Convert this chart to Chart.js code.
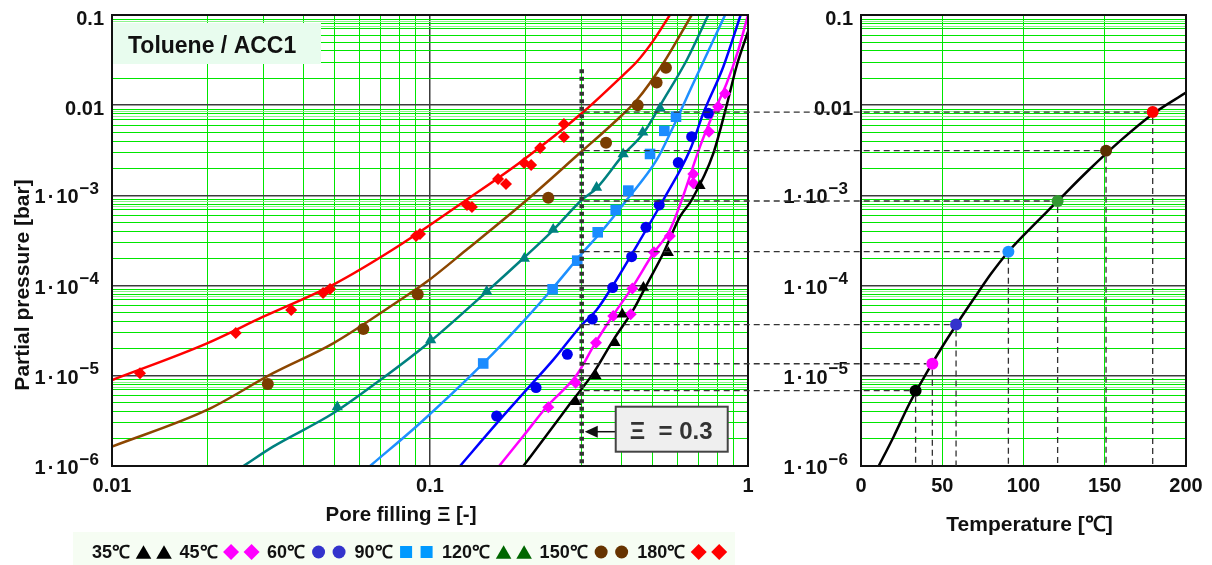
<!DOCTYPE html>
<html>
<head>
<meta charset="utf-8">
<script src="https://cdn.jsdelivr.net/npm/chart.js@4.4.1/dist/chart.umd.min.js"></script>
<style>
  body { margin: 0; background: #fff; }
  #wrap { position: relative; width: 1212px; height: 565px; }
  canvas { position: absolute; top: 0; }
</style>
</head>
<body>
<div id="wrap">
  <canvas id="fill" width="790" height="565" style="left:0"></canvas>
  <canvas id="temp" width="452" height="565" style="left:760px"></canvas>
  <canvas id="links" width="1212" height="565" style="left:0;pointer-events:none"></canvas>
</div>
<script>
// ---- values ----
var temps = [35, 45, 60, 90, 120, 150, 180];
var tempLabels = ['35℃', '45℃', '60℃', '90℃', '120℃', '150℃', '180℃'];

// fitted isotherms (pore filling, partial pressure in bar)
var xiFit35 = [0.1966, 0.2328, 0.2756, 0.3263, 0.377, 0.4357, 0.48, 0.5416, 0.611, 0.665, 0.778, 0.857, 0.923, 1.0];
var pFit35  = [1e-6, 2.2e-6, 4.9e-6, 1.07e-5, 2.49e-5, 5.37e-5, 1.02e-4, 2.28e-4, 5.81e-4, 8.89e-4, 2.93e-3, 1.0e-2, 2.79e-2, 6.53e-2];
var xiFit45 = [0.165, 0.1966, 0.2328, 0.2891, 0.3305, 0.377, 0.4306, 0.5038, 0.568, 0.619, 0.7063, 0.778, 0.857, 0.932, 1.0];
var pFit45  = [1e-6, 2.15e-6, 4.54e-6, 1.02e-5, 2.29e-5, 4.72e-5, 9.33e-5, 2.28e-4, 4.13e-4, 8.89e-4, 3.47e-3, 8.13e-3, 1.75e-2, 4.09e-2, 0.1];
var xiFit60 = [0.1243, 0.162, 0.1966, 0.244, 0.3, 0.334, 0.377, 0.4357, 0.5416, 0.657, 0.7235, 0.8363, 0.948];
var pFit60  = [1e-6, 2.97e-6, 6.40e-6, 1.50e-5, 3.66e-5, 5.37e-5, 1.02e-4, 2.38e-4, 8.89e-4, 3.18e-3, 8.13e-3, 2.67e-2, 0.1];
var xiFit90 = [0.0648, 0.093, 0.147, 0.1966, 0.244, 0.3, 0.3424, 0.4154, 0.516, 0.582, 0.673, 0.847];
var pFit90  = [1e-6, 2.98e-6, 1.37e-5, 4.02e-5, 9.48e-5, 2.26e-4, 3.80e-4, 8.89e-4, 2.47e-3, 5.78e-3, 1.75e-2, 0.1];
var xiFit120 = [0.0259, 0.0321, 0.0496, 0.0697, 0.1, 0.1508, 0.1966, 0.244, 0.3, 0.334, 0.405, 0.469, 0.5416, 0.642, 0.75];
var pFit120  = [1e-6, 1.64e-6, 3.84e-6, 8.97e-6, 2.39e-5, 8.57e-5, 2.01e-4, 4.13e-4, 8.89e-4, 1.20e-3, 2.81e-3, 4.88e-3, 1.14e-2, 3.17e-2, 0.1];
var xiFit150 = [0.01, 0.0199, 0.0321, 0.0496, 0.0805, 0.0976, 0.130, 0.2016, 0.2953, 0.377, 0.447, 0.5416, 0.665];
var pFit150  = [1.64e-6, 4.18e-6, 1.07e-5, 2.29e-5, 6.92e-5, 1.10e-4, 2.48e-4, 8.89e-4, 2.93e-3, 6.31e-3, 1.14e-2, 2.92e-2, 0.1];
var xiFit180 = [0.01, 0.0199, 0.0299, 0.0495, 0.0805, 0.130, 0.1965, 0.300, 0.405, 0.447, 0.5038, 0.568];
var pFit180  = [8.97e-6, 2.29e-5, 4.52e-5, 1.02e-4, 2.82e-4, 8.89e-4, 2.47e-3, 8.13e-3, 2.16e-2, 3.03e-2, 5.2e-2, 0.1];

// measured points
var xiExp35 = [0.2877, 0.3327, 0.3819, 0.4024, 0.469, 0.5616, 0.7063];
var pExp35  = [5.16e-6, 9.95e-6, 2.33e-5, 4.8e-5, 9.5e-5, 2.32e-4, 1.28e-3];
var xiExp45 = [0.2355, 0.287, 0.3327, 0.377, 0.4276, 0.433, 0.506, 0.568, 0.673, 0.673, 0.754, 0.806, 0.847];
var pExp45  = [4.48e-6, 8.4e-6, 2.33e-5, 4.6e-5, 4.8e-5, 9.3e-5, 2.34e-4, 3.55e-4, 1.73e-3, 1.36e-3, 5.08e-3, 9.6e-3, 1.35e-2];
var xiExp60 = [0.162, 0.2155, 0.2703, 0.324, 0.3754, 0.4306, 0.4777, 0.526, 0.6036, 0.665, 0.75];
var pExp60  = [3.58e-6, 7.4e-6, 1.73e-5, 4.26e-5, 9.5e-5, 2.09e-4, 4.43e-4, 7.83e-4, 2.31e-3, 4.48e-3, 8.13e-3];
var xiExp90 = [0.147, 0.243, 0.2904, 0.3368, 0.3837, 0.4204, 0.492, 0.5455, 0.5937];
var pExp90  = [1.37e-5, 9.1e-5, 1.89e-4, 3.9e-4, 6.9e-4, 1.13e-3, 2.88e-3, 5.2e-3, 7.46e-3];
var xiExp120 = [0.0511, 0.1005, 0.1508, 0.198, 0.244, 0.334, 0.405, 0.4666, 0.529];
var pExp120  = [4.5e-6, 2.5e-5, 8.6e-5, 2.0e-4, 4.2e-4, 1.22e-3, 2.88e-3, 5.0e-3, 9.25e-3];
var xiExp150 = [0.0309, 0.0617, 0.0915, 0.2355, 0.3578, 0.4498, 0.516, 0.552];
var pExp150  = [8.1e-6, 3.3e-5, 8.0e-5, 9.4e-4, 3.84e-3, 1.0e-2, 1.79e-2, 2.6e-2];
var xiExp180 = [0.01225, 0.0245, 0.0366, 0.0461, 0.0485, 0.0904, 0.0930, 0.1307, 0.1355, 0.1637, 0.1734, 0.1977, 0.208, 0.222, 0.2638, 0.2638];
var pExp180  = [1.07e-5, 2.98e-5, 5.36e-5, 8.28e-5, 9.16e-5, 3.55e-4, 3.73e-4, 7.83e-4, 7.43e-4, 1.52e-3, 1.34e-3, 2.29e-3, 2.17e-3, 3.36e-3, 6.19e-3, 4.44e-3];

// right panel: pressure over temperature
var vpT = [10, 20, 30, 40, 50, 60, 70, 80, 90, 100, 120, 140, 160, 180, 200];
var vpP = [9.3e-7, 2.1e-6, 5.0e-6, 1.05e-5, 2.1e-5, 4.0e-5, 7.4e-5, 1.35e-4, 2.3e-4, 3.6e-4, 8.3e-4, 1.9e-3, 4.1e-3, 8.1e-3, 1.38e-2];
var crossT = [33.6, 43.9, 58.5, 90.7, 121, 150.8, 179.5];
var crossP = [6.84e-6, 1.36e-5, 3.7e-5, 2.38e-4, 8.67e-4, 3.13e-3, 8.4e-3];

var xiMark = 0.3;        // Ξ = 0.3 reading line
var markTopP = 0.025;    // top end of that line
var calloutP = 2.4e-6;   // height of the callout arrow

var xGridMult = [1, 2, 3, 4, 5, 6, 7, 8, 9];
var yGridMult = [1, 2, 3, 4, 5, 6, 7, 7.5, 8, 8.5, 9];
var yTickExps = [-1, -2, -3, -4, -5, -6];
var tempTicks = [0, 50, 100, 150, 200];

var FONT = "'Liberation Sans', Arial, Helvetica, sans-serif";
Chart.defaults.font.family = FONT;

var series = [
    {xi: xiFit35,  p: pFit35,  exi: xiExp35,  ep: pExp35,  line: '#000000', mark: '#000000', key: '#000000', style: 'triangle', r: 6.5, kr: 9},
    {xi: xiFit45,  p: pFit45,  exi: xiExp45,  ep: pExp45,  line: '#ff00ff', mark: '#ff00ff', key: '#ff00ff', style: 'rectRot',  r: 6,   kr: 8},
    {xi: xiFit60,  p: pFit60,  exi: xiExp60,  ep: pExp60,  line: '#0000ff', mark: '#0000ee', key: '#3333cc', style: 'circle',   r: 5.5, kr: 6.5},
    {xi: xiFit90,  p: pFit90,  exi: xiExp90,  ep: pExp90,  line: '#1e90ff', mark: '#1a8cff', key: '#0099ff', style: 'rect',     r: 7.5, kr: 8.5},
    {xi: xiFit120, p: pFit120, exi: xiExp120, ep: pExp120, line: '#008080', mark: '#008080', key: '#006600', style: 'triangle', r: 6.5, kr: 9},
    {xi: xiFit150, p: pFit150, exi: xiExp150, ep: pExp150, line: '#8c4600', mark: '#7a3d00', key: '#663300', style: 'circle',   r: 6,   kr: 6.5},
    {xi: xiFit180, p: pFit180, exi: xiExp180, ep: pExp180, line: '#ff0000', mark: '#ff0000', key: '#ff0000', style: 'rectRot',  r: 6,   kr: 8}
];
var dotColors = ['#000000', '#ff00ff', '#3333cc', '#1e90ff', '#339933', '#5a3000', '#ff0000'];

function pts(xs, ys) {
    return xs.map(function (x, i) { return {x: x, y: ys[i]}; });
}
function logGrid(minExp, maxExp, mults) {
    var out = [];
    for (var e = minExp; e < maxExp; e++) {
        mults.forEach(function (m) { out.push(m * Math.pow(10, e)); });
    }
    out.push(Math.pow(10, maxExp));
    return out;
}
function mantissa(v) {
    var e = Math.floor(Math.log10(v) + 1e-9);
    return v / Math.pow(10, e);
}
function isDecade(v) { return Math.abs(mantissa(v) - 1) < 1e-6; }
function isHalf(v) { var m = mantissa(v); return Math.abs(m - Math.round(m)) > 0.25; }

function gridColor(c) {
    var v = c.tick.value;
    return isDecade(v) ? '#3c3c3c' : (isHalf(v) ? '#8cf58c' : '#00e600');
}
function gridWidth(c) { return isDecade(c.tick.value) ? 1.5 : 1; }

function marker(ctx, style, r, x, y, color) {
    ctx.fillStyle = color;
    if (Chart.helpers && Chart.helpers.drawPoint) {
        Chart.helpers.drawPoint(ctx, {pointStyle: style, radius: r, rotation: 0, borderWidth: 0}, x, y);
        return;
    }
    ctx.beginPath();
    ctx.arc(x, y, r, 0, Math.PI * 2);
    ctx.fill();
}

// y tick labels "0.1", "0.01", "1·10^-3" ... drawn with a raised exponent
function drawYLabels(chart) {
    var ctx = chart.ctx, a = chart.chartArea, y = chart.scales.y;
    ctx.save();
    ctx.fillStyle = '#111';
    ctx.textBaseline = 'alphabetic';
    yTickExps.forEach(function (e) {
        var py = y.getPixelForValue(Math.pow(10, e));
        if (e >= -2) {
            ctx.font = 'bold 20px ' + FONT;
            ctx.textAlign = 'right';
            ctx.fillText(e === -1 ? '0.1' : '0.01', a.left - 8, py + 10);
            return;
        }
        var sup = '\u2212' + (-e);
        ctx.textAlign = 'left';
        ctx.font = 'bold 17px ' + FONT;
        var wSup = ctx.measureText(sup).width;
        var xs = a.left - 13 - wSup;
        ctx.fillText(sup, xs, py - 1.5);
        ctx.font = 'bold 20px ' + FONT;
        var w10 = ctx.measureText('10').width, wDot = ctx.measureText('·').width, w1 = ctx.measureText('1').width;
        var x10 = xs - 1 - w10, xDot = x10 - 2 - wDot, x1 = xDot - 2 - w1;
        ctx.fillText('10', x10, py + 8);
        ctx.fillText('·', xDot, py + 8);
        ctx.fillText('1', x1, py + 8);
    });
    ctx.restore();
}

var fillDecor = {
    id: 'fillDecor',
    afterDatasetsDraw: function (chart) {
        var ctx = chart.ctx, a = chart.chartArea, x = chart.scales.x, y = chart.scales.y;
        ctx.save();
        // reading line at Ξ = 0.3
        var x0 = x.getPixelForValue(xiMark);
        ctx.strokeStyle = '#333';
        ctx.lineWidth = 4.5;
        ctx.setLineDash([4, 3.5]);
        ctx.beginPath();
        ctx.moveTo(x0, y.getPixelForValue(markTopP));
        ctx.lineTo(x0, a.bottom);
        ctx.stroke();
        ctx.setLineDash([]);

        // plot frame
        ctx.strokeStyle = '#111';
        ctx.lineWidth = 2;
        ctx.strokeRect(a.left, a.top, a.right - a.left, a.bottom - a.top);

        // system label
        ctx.fillStyle = '#e8fcee';
        ctx.fillRect(a.left + 1, a.top + 8, 208, 41);
        ctx.fillStyle = '#111';
        ctx.font = 'bold 23px ' + FONT;
        ctx.textAlign = 'left';
        ctx.textBaseline = 'alphabetic';
        ctx.fillText('Toluene / ACC1', a.left + 16, a.top + 38);

        // callout with arrow
        var ay = y.getPixelForValue(calloutP);
        var bx = x0 + 34, by = ay - 25, bw = 112, bh = 45;
        ctx.strokeStyle = '#111';
        ctx.lineWidth = 1.5;
        ctx.beginPath();
        ctx.moveTo(bx, ay);
        ctx.lineTo(x0 + 14, ay);
        ctx.stroke();
        ctx.fillStyle = '#111';
        ctx.beginPath();
        ctx.moveTo(x0 + 3, ay);
        ctx.lineTo(x0 + 16, ay - 6);
        ctx.lineTo(x0 + 16, ay + 6);
        ctx.closePath();
        ctx.fill();
        ctx.fillStyle = '#efefef';
        ctx.fillRect(bx, by, bw, bh);
        ctx.strokeStyle = '#444';
        ctx.lineWidth = 2;
        ctx.strokeRect(bx, by, bw, bh);
        ctx.fillStyle = '#333';
        ctx.font = 'bold 24px ' + FONT;
        ctx.fillText('\u039E  = 0.3', bx + 14, by + 32);
        ctx.restore();
    },
    afterDraw: function (chart) {
        var ctx = chart.ctx;
        drawYLabels(chart);
        ctx.save();
        ctx.fillStyle = '#111';
        // axis titles
        ctx.font = 'bold 20.5px ' + FONT;
        ctx.textAlign = 'center';
        ctx.textBaseline = 'alphabetic';
        ctx.fillText('Pore filling \u039E [-]', 401, 521);
        ctx.save();
        ctx.translate(28.5, 285);
        ctx.rotate(-Math.PI / 2);
        ctx.font = 'bold 21px ' + FONT;
        ctx.fillText('Partial pressure [bar]', 0, 0);
        ctx.restore();

        // legend strip
        ctx.fillStyle = '#f6fdf3';
        ctx.fillRect(73, 532, 662, 33);
        ctx.font = 'bold 18px ' + FONT;
        ctx.textAlign = 'left';
        ctx.textBaseline = 'alphabetic';
        var lx = 92, ly = 552;
        series.forEach(function (s, i) {
            ctx.fillStyle = '#111';
            ctx.fillText(tempLabels[i], lx, ly + 6);
            lx += ctx.measureText(tempLabels[i]).width + 13.5;
            var dy = s.style === 'triangle' ? s.kr / 4 : 0;
            marker(ctx, s.style, s.kr, lx, ly + dy, s.key);
            lx += 20.5;
            marker(ctx, s.style, s.kr, lx, ly + dy, s.key);
            lx += 15.5;
        });
        ctx.restore();
    }
};

var tempDecor = {
    id: 'tempDecor',
    afterDatasetsDraw: function (chart) {
        var ctx = chart.ctx, a = chart.chartArea;
        ctx.save();
        ctx.strokeStyle = '#111';
        ctx.lineWidth = 2;
        ctx.strokeRect(a.left, a.top, a.right - a.left, a.bottom - a.top);
        ctx.restore();
    },
    afterDraw: function (chart) {
        var ctx = chart.ctx, a = chart.chartArea;
        drawYLabels(chart);
        ctx.save();
        ctx.fillStyle = '#111';
        ctx.font = 'bold 21px ' + FONT;
        ctx.textAlign = 'center';
        ctx.textBaseline = 'alphabetic';
        ctx.fillText('Temperature [℃]', (a.left + a.right) / 2 + 6, 531);
        ctx.restore();
    }
};

// left chart datasets: fit lines below, measured points on top
var fillSets = [];
series.forEach(function (s, i) {
    fillSets.push({
        label: tempLabels[i] + ' fit',
        data: pts(s.xi, s.p),
        showLine: true,
        borderColor: s.line,
        borderWidth: 2.5,
        pointRadius: 0,
        cubicInterpolationMode: 'monotone',
        order: 2
    });
    fillSets.push({
        label: tempLabels[i],
        data: pts(s.exi, s.ep),
        showLine: false,
        pointStyle: s.style,
        pointRadius: s.r,
        backgroundColor: s.mark,
        borderWidth: 0,
        order: 1
    });
});

var logY = {
    type: 'logarithmic',
    min: 1e-6,
    max: 0.1,
    afterBuildTicks: function (s) { s.ticks = logGrid(-6, -1, yGridMult).map(function (v) { return {value: v}; }); },
    grid: {color: gridColor, lineWidth: gridWidth, drawTicks: false},
    border: {display: false},
    ticks: {display: false}
};

var fillChart = new Chart(document.getElementById('fill'), {
    type: 'scatter',
    data: {datasets: fillSets},
    options: {
        responsive: false,
        animation: false,
        events: [],
        layout: {padding: {top: 15, right: 42, left: 0, bottom: 0}},
        plugins: {legend: {display: false}, tooltip: {enabled: false}},
        scales: {
            x: {
                type: 'logarithmic',
                min: 0.01,
                max: 1,
                afterBuildTicks: function (s) { s.ticks = logGrid(-2, 0, xGridMult).map(function (v) { return {value: v}; }); },
                afterFit: function (s) { s.height = 99; },
                grid: {color: gridColor, lineWidth: gridWidth, drawTicks: false},
                border: {display: false},
                ticks: {
                    autoSkip: false,
                    maxRotation: 0,
                    padding: 8,
                    color: '#111',
                    font: {size: 20, weight: 'bold'},
                    callback: function (v) { return isDecade(v) ? String(v) : ''; }
                }
            },
            y: Object.assign({}, logY, {afterFit: function (s) { s.width = 112; }})
        }
    },
    plugins: [fillDecor]
});

var tempChart = new Chart(document.getElementById('temp'), {
    type: 'scatter',
    data: {
        datasets: [
            {
                label: 'pressure',
                data: pts(vpT, vpP),
                showLine: true,
                borderColor: '#000',
                borderWidth: 2.5,
                pointRadius: 0,
                cubicInterpolationMode: 'monotone',
                order: 2
            },
            {
                label: 'at 0.3',
                data: pts(crossT, crossP),
                pointRadius: 6,
                borderWidth: 0,
                backgroundColor: dotColors,
                order: 1
            }
        ]
    },
    options: {
        responsive: false,
        animation: false,
        events: [],
        layout: {padding: {top: 15, right: 26, left: 0, bottom: 0}},
        plugins: {legend: {display: false}, tooltip: {enabled: false}},
        scales: {
            x: {
                type: 'linear',
                min: 0,
                max: 200,
                afterBuildTicks: function (s) { s.ticks = tempTicks.map(function (v) { return {value: v}; }); },
                afterFit: function (s) { s.height = 99; },
                grid: {color: '#00e600', lineWidth: 1, drawTicks: false},
                border: {display: false},
                ticks: {autoSkip: false, maxRotation: 0, padding: 8, color: '#111', font: {size: 20, weight: 'bold'}}
            },
            y: Object.assign({}, logY, {afterFit: function (s) { s.width = 101; }})
        }
    },
    plugins: [tempDecor]
});

// dashed read-off lines from Ξ = 0.3 across to the temperature panel
function drawLinks() {
    var c = document.getElementById('links').getContext('2d');
    var lx = fillChart.scales.x, ly = fillChart.scales.y;
    var rx = tempChart.scales.x, ry = tempChart.scales.y;
    var off = tempChart.canvas.offsetLeft;
    var x0 = lx.getPixelForValue(xiMark);
    c.strokeStyle = '#333';
    c.lineWidth = 1.3;
    c.setLineDash([6, 4]);
    crossT.forEach(function (t, i) {
        var yl = ly.getPixelForValue(crossP[i]);
        var xr = off + rx.getPixelForValue(t);
        var yr = ry.getPixelForValue(crossP[i]);
        c.beginPath();
        c.moveTo(x0 + 2, yl);
        c.lineTo(xr - 6, yr);
        c.stroke();
        c.beginPath();
        c.moveTo(xr, yr + 6);
        c.lineTo(xr, ry.bottom);
        c.stroke();
    });
}
drawLinks();
</script>
</body>
</html>
